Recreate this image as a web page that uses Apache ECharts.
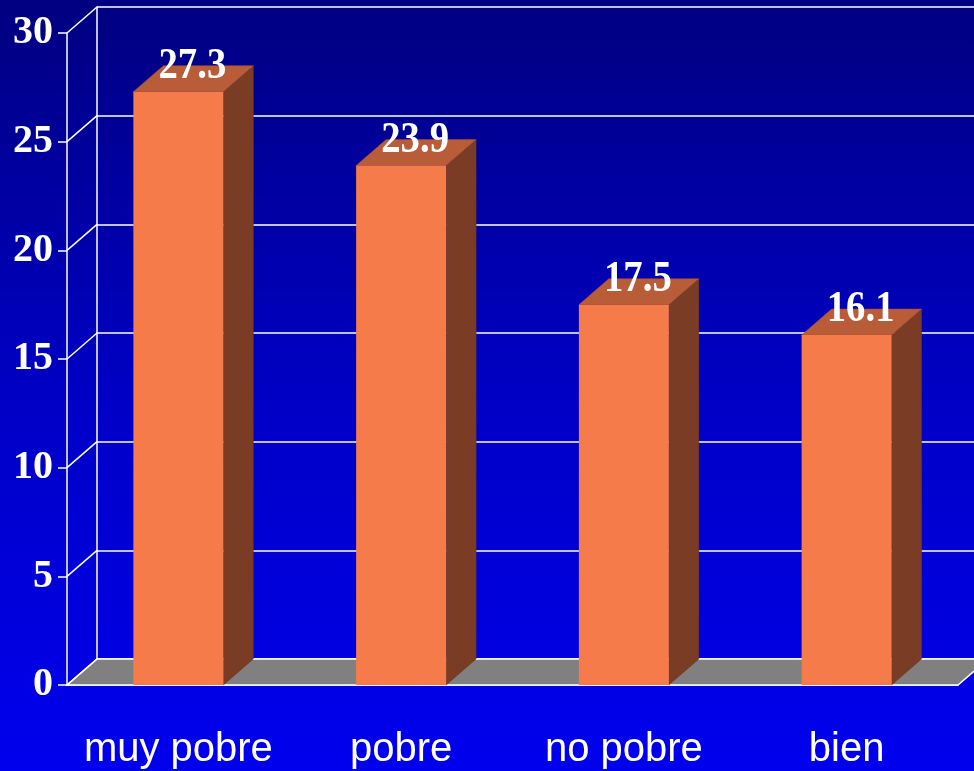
<!DOCTYPE html>
<html>
<head>
<meta charset="utf-8">
<script src="https://cdn.jsdelivr.net/npm/echarts@6/dist/echarts.min.js"></script>
<style>
  html, body { margin: 0; padding: 0; }
  #main { width: 974px; height: 771px; }
</style>
</head>
<body>
<div id="main"></div>
<script>
var categories = ['muy pobre', 'pobre', 'no pobre', 'bien'];
var values = [27.3, 23.9, 17.5, 16.1];
var yTicks = [0, 5, 10, 15, 20, 25, 30];

// 3D depth offset
var DX = 30, DY = 26;

var chart = echarts.init(document.getElementById('main'));

// bars: front face + side + top
function renderBar(params, api) {
  var top = api.coord([api.value(0), api.value(1)]);
  var base = api.coord([api.value(0), 0]);
  var w = api.size([1, 0])[0] * 0.404;
  var xl = top[0] - w / 2, xr = top[0] + w / 2;
  var yt = top[1], yb = base[1];
  return {
    type: 'group',
    children: [
      { type: 'polygon', shape: { points: [[xr, yt], [xr + DX, yt - DY], [xr + DX, yb - DY], [xr, yb]] },
        style: { fill: '#7A3C24', stroke: '#6a3420', lineWidth: 0.5 } },
      { type: 'polygon', shape: { points: [[xl, yt], [xl + DX, yt - DY], [xr + DX, yt - DY], [xr, yt]] },
        style: { fill: '#B95C38', stroke: '#a65030', lineWidth: 0.5 } },
      { type: 'rect', shape: { x: xl, y: yt, width: w, height: yb - yt },
        style: { fill: '#F57C4A' } },
      { type: 'text', x: top[0] + DX / 2 - 1, y: yt - DY + 1, scaleX: 0.88,
        style: { text: String(values[params.dataIndex]), fill: '#fff',
          font: 'bold 44px "Liberation Serif", "Times New Roman", serif',
          align: 'center', verticalAlign: 'middle' } }
    ]
  };
}

// diagonal tick connectors from front axis to back wall
function renderDiag(params, api) {
  var y = api.coord([0, api.value(1)])[1];
  var x = params.coordSys.x;
  return { type: 'line', shape: { x1: x, y1: y, x2: x + DX, y2: y - DY },
    style: { stroke: '#fff', lineWidth: 1.5 } };
}

// gray floor
function renderFloor(params, api) {
  var cs = params.coordSys;
  var y = api.coord([0, 0])[1];
  var x0 = cs.x, x1 = cs.x + cs.width;
  return { type: 'polygon',
    shape: { points: [[x0, y], [x1, y], [x1 + DX, y - DY], [x0 + DX, y - DY]] },
    style: { fill: '#808080', stroke: '#fff', lineWidth: 1.5 } };
}

var option = {
  backgroundColor: {
    type: 'linear', x: 0, y: 0, x2: 0, y2: 1,
    colorStops: [
      { offset: 0, color: '#000080' },
      { offset: 0.5, color: '#0000C4' },
      { offset: 1, color: '#0000EE' }
    ]
  },
  animation: false,
  grid: [
    { left: 67, top: 33, width: 891, height: 652 },
    { left: 97, top: 7, width: 891, height: 652 }
  ],
  xAxis: [
    { type: 'category', gridIndex: 0, data: categories,
      axisLine: { lineStyle: { color: '#fff', width: 1.5 } },
      axisTick: { length: 8, lineStyle: { color: '#fff', width: 1.5 } },
      axisLabel: { color: '#fff', fontSize: 40, margin: 45, interval: 0,
        fontFamily: '"Liberation Sans", Arial, sans-serif' } },
    { type: 'category', gridIndex: 1, data: categories, show: false }
  ],
  yAxis: [
    { type: 'value', gridIndex: 0, min: 0, max: 30, interval: 5,
      axisLine: { show: true, lineStyle: { color: '#fff', width: 1.5 } },
      axisTick: { show: true, length: 9, lineStyle: { color: '#fff', width: 1.5 } },
      axisLabel: { color: '#fff', fontSize: 40, fontWeight: 'bold', margin: 14,
        fontFamily: '"Liberation Serif", "Times New Roman", serif' },
      splitLine: { show: false } },
    { type: 'value', gridIndex: 1, min: 0, max: 30, interval: 5,
      axisLine: { show: true, lineStyle: { color: '#fff', width: 1.5 } },
      axisTick: { show: false }, axisLabel: { show: false },
      splitLine: { show: true, lineStyle: { color: '#fff', width: 1.5 } } }
  ],
  series: [
    { type: 'custom', xAxisIndex: 0, yAxisIndex: 0, clip: false, z: 3,
      renderItem: renderFloor, data: [[0, 0]] },
    { type: 'custom', xAxisIndex: 0, yAxisIndex: 0, clip: false, z: 4,
      renderItem: renderDiag, data: yTicks.map(function (v) { return [0, v]; }) },
    { type: 'custom', xAxisIndex: 0, yAxisIndex: 0, clip: false, z: 5,
      renderItem: renderBar, data: values.map(function (v, i) { return [i, v]; }) }
  ]
};

chart.setOption(option);
</script>
</body>
</html>
